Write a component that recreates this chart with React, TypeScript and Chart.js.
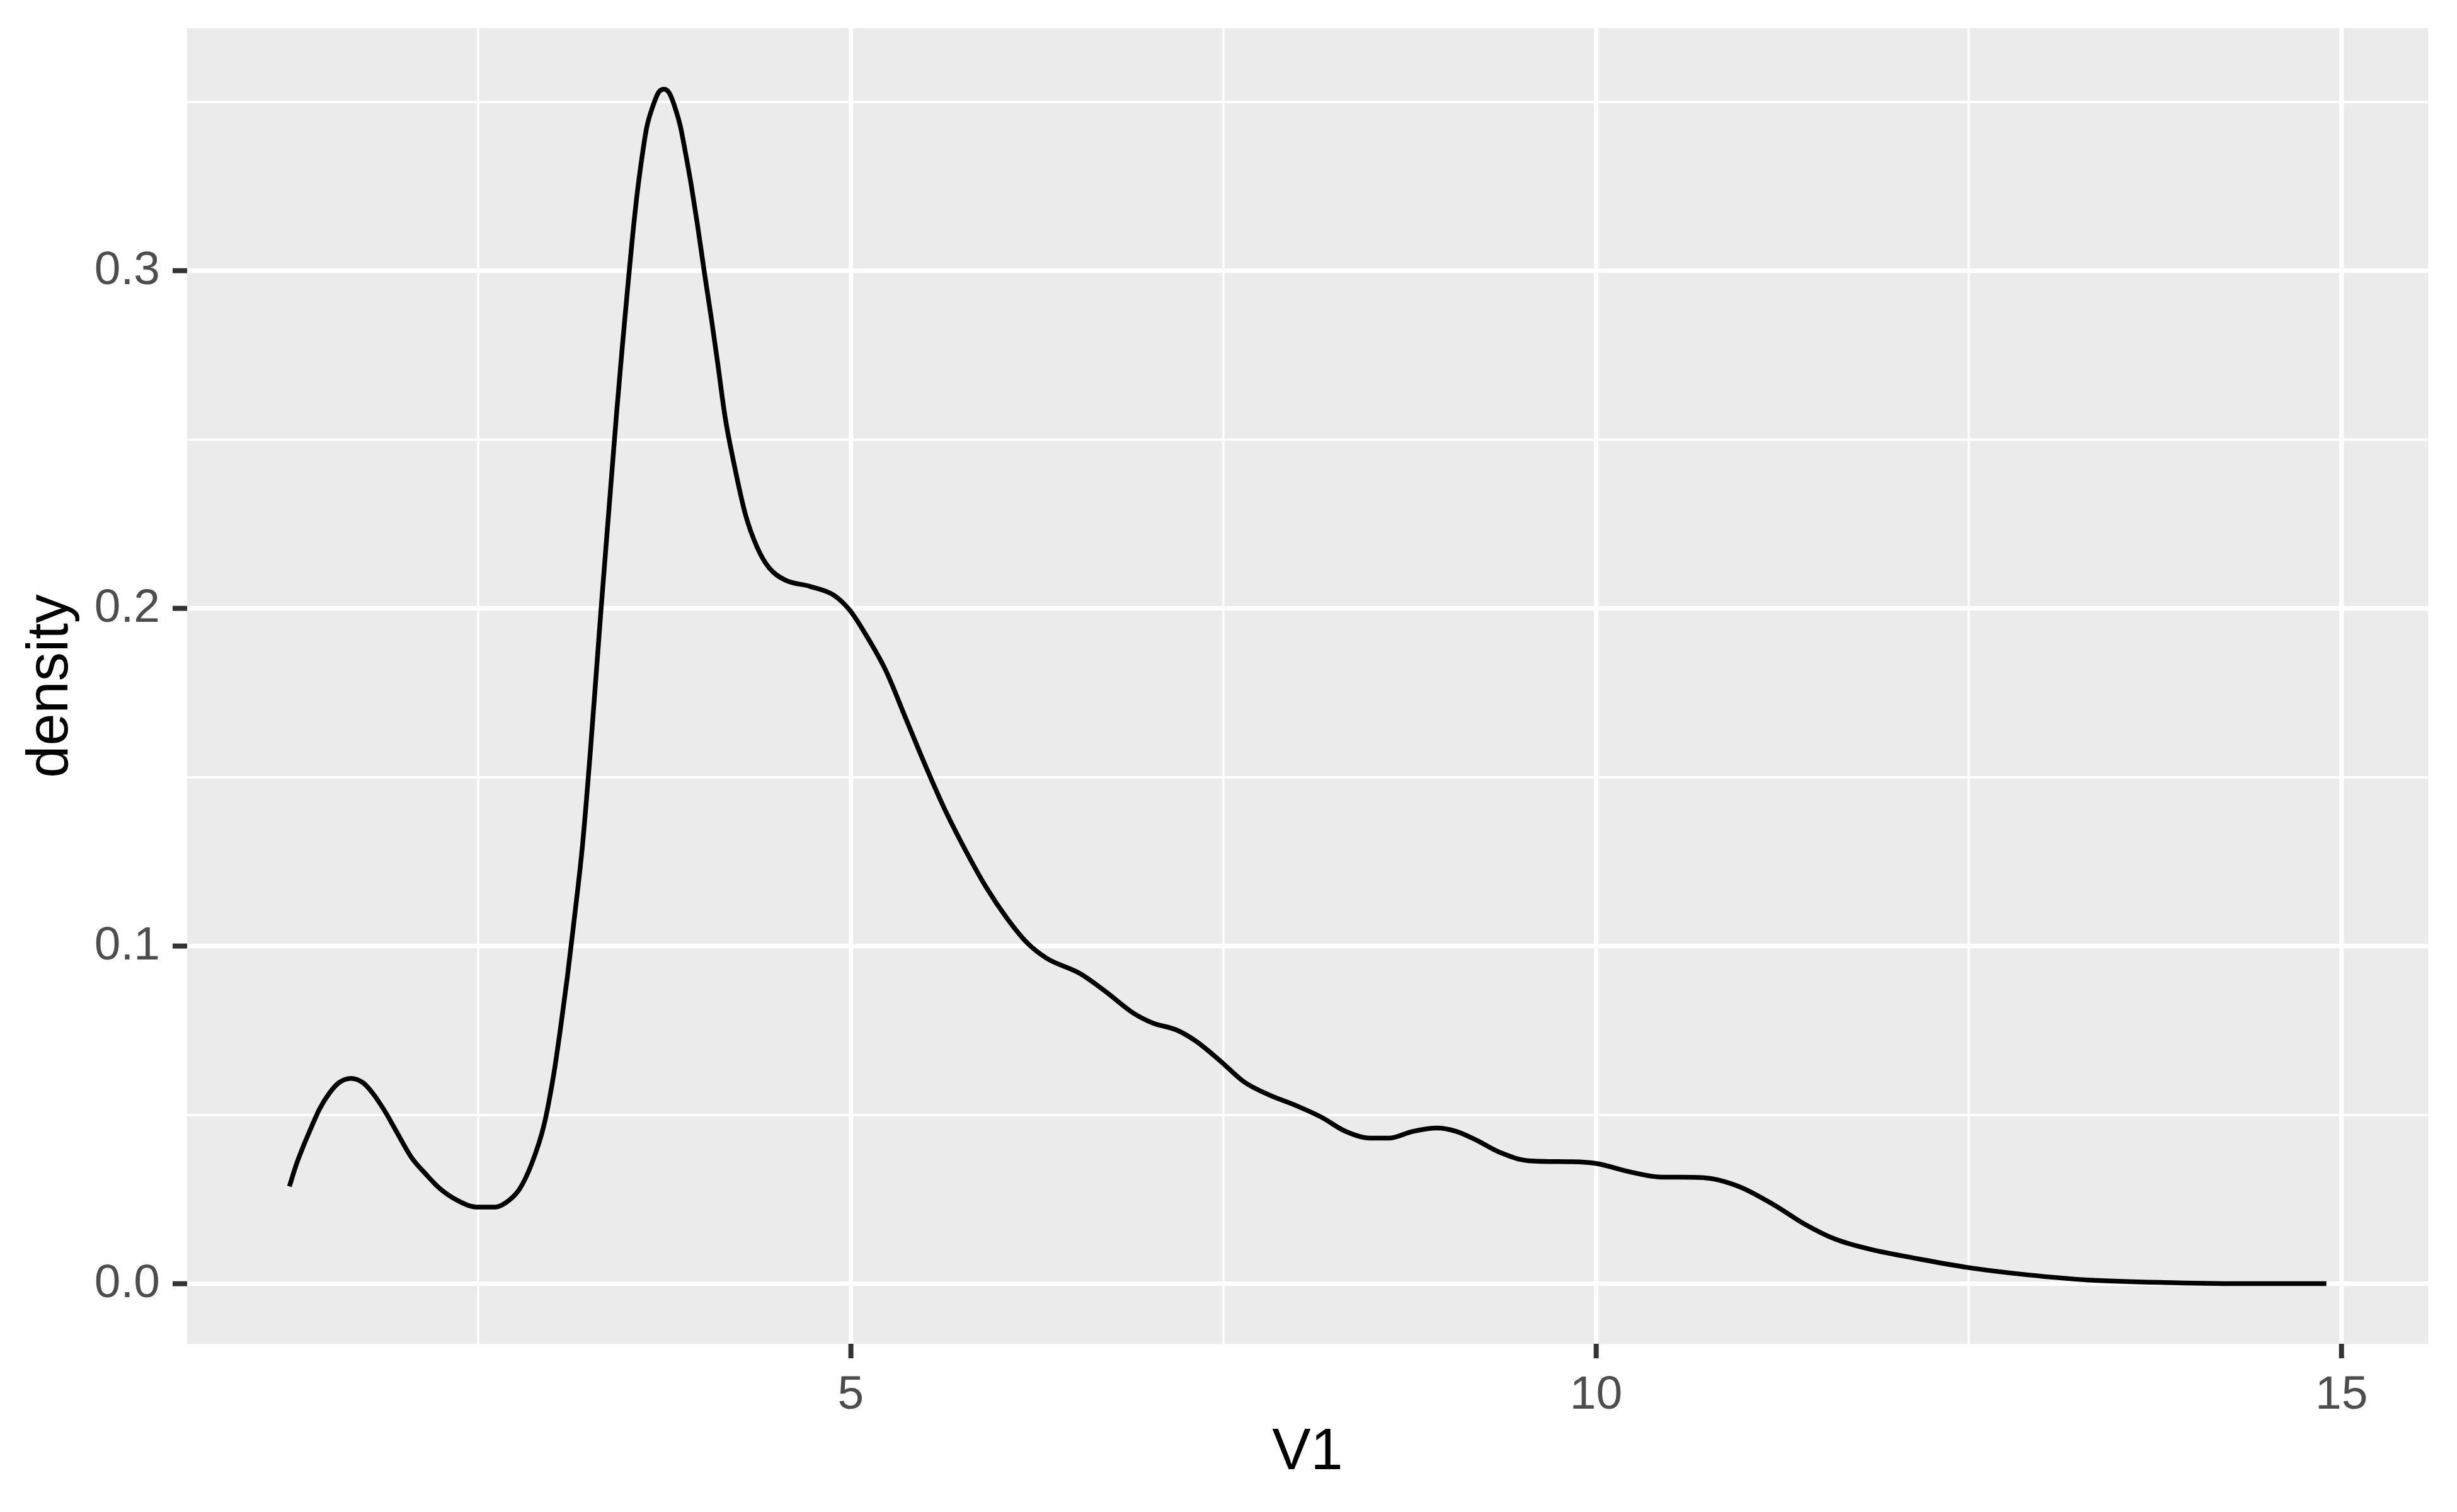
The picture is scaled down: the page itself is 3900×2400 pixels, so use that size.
import React, { useEffect, useRef } from "react";
import { Chart, registerables } from "chart.js";

Chart.register(...registerables);

// V1 values (x) and their estimated density (y)
const v1Values = [
  1.235, 1.284, 1.333, 1.381, 1.438, 1.503, 1.567, 1.648, 1.729, 1.794,
  1.875, 1.955, 2.052, 2.149, 2.246, 2.36, 2.489, 2.618, 2.7, 2.78,
  2.861, 2.942, 3.007, 3.055, 3.1, 3.147, 3.201, 3.255, 3.322, 3.376,
  3.43, 3.469, 3.501, 3.533, 3.566, 3.598, 3.631, 3.671, 3.712, 3.747,
  3.784, 3.825, 3.857, 3.89, 3.93, 3.97, 4.019, 4.068, 4.108, 4.158,
  4.212, 4.293, 4.374, 4.454, 4.562, 4.724, 4.886, 4.994, 5.101, 5.236,
  5.371, 5.506, 5.64, 5.775, 5.91, 6.045, 6.184, 6.313, 6.54, 6.701,
  6.896, 7.025, 7.187, 7.316, 7.478, 7.64, 7.801, 7.995, 8.157, 8.319,
  8.481, 8.61, 8.771, 8.933, 9.062, 9.192, 9.353, 9.548, 9.839, 10.0,
  10.227, 10.42, 10.713, 10.956, 11.198, 11.4, 11.603, 11.846, 12.169, 12.492,
  12.897, 13.3, 13.867, 14.39, 14.898,
];
const densityValues = [
  0.0289, 0.0357, 0.0413, 0.0463, 0.0519, 0.0565, 0.0596, 0.0609, 0.0596, 0.0565,
  0.0512, 0.045, 0.0376, 0.0326, 0.0282, 0.0248, 0.0228, 0.0228, 0.0245, 0.0282,
  0.0357, 0.0469, 0.0618, 0.0762, 0.0911, 0.1085, 0.1299, 0.1584, 0.1978, 0.228,
  0.258, 0.278, 0.2935, 0.3085, 0.3222, 0.333, 0.3423, 0.3485, 0.3529, 0.3538,
  0.3526, 0.3479, 0.3429, 0.3354, 0.3255, 0.3143, 0.2994, 0.2851, 0.2726, 0.2566,
  0.244, 0.228, 0.218, 0.212, 0.2084, 0.2066, 0.204, 0.1995, 0.1923, 0.1816,
  0.1673, 0.153, 0.1397, 0.128, 0.1174, 0.1085, 0.101, 0.0965, 0.0919, 0.0869,
  0.0802, 0.0773, 0.0752, 0.0719, 0.0661, 0.0598, 0.0561, 0.0527, 0.0494, 0.0452,
  0.0432, 0.0432, 0.0452, 0.0462, 0.0452, 0.0427, 0.039, 0.0365, 0.0362, 0.0357,
  0.0332, 0.0317, 0.0315, 0.0289, 0.0233, 0.0177, 0.0133, 0.0102, 0.0074, 0.0049,
  0.0027, 0.0012, 0.0004, 0.0001, 0.0001,
];

// Axis ticks (majors are labelled, minors only get a thin grid line)
const xTickValues = [2.5, 5, 7.5, 10, 12.5, 15];
const xMajorTicks = [5, 10, 15];
const yTickValues = [0, 0.05, 0.1, 0.15, 0.2, 0.25, 0.3, 0.35];
const yMajorTicks = [0, 0.1, 0.2, 0.3];

const xTitle = "V1";
const yTitle = "density";

const FONT = "'Liberation Sans', Arial, Helvetica, sans-serif";

const isMajor = (list: number[], v: number) =>
  list.some((m) => Math.abs(m - v) < 1e-9);

const panelBackground = {
  id: "panelBackground",
  beforeDraw(chart: any) {
    const { ctx, chartArea } = chart;
    ctx.save();
    ctx.fillStyle = "#EBEBEB";
    ctx.fillRect(
      chartArea.left,
      chartArea.top,
      chartArea.right - chartArea.left,
      chartArea.bottom - chartArea.top
    );
    ctx.restore();
  },
};

export default function App() {
  const canvasRef = useRef<HTMLCanvasElement | null>(null);

  useEffect(() => {
    if (!canvasRef.current) return;
    const points = v1Values.map((x, i) => ({ x, y: densityValues[i] }));

    const chart = new Chart(canvasRef.current, {
      type: "line",
      data: {
        datasets: [
          {
            data: points,
            borderColor: "#000000",
            borderWidth: 7.5,
            pointRadius: 0,
            fill: false,
            cubicInterpolationMode: "monotone",
          },
        ],
      },
      options: {
        animation: false,
        responsive: false,
        devicePixelRatio: 1,
        layout: { padding: { top: 45, right: 46, left: 0, bottom: 0 } },
        plugins: {
          legend: { display: false },
          tooltip: { enabled: false },
        },
        scales: {
          x: {
            type: "linear",
            min: 0.549,
            max: 15.58,
            afterFit: (scale: any) => {
              scale.height = 267;
              scale.paddingLeft = 0;
              scale.paddingRight = 0;
            },
            afterBuildTicks: (scale: any) => {
              scale.ticks = xTickValues.map((v) => ({ value: v }));
            },
            border: { display: false },
            grid: {
              color: "#FFFFFF",
              lineWidth: (ctx: any) =>
                isMajor(xMajorTicks, ctx.tick?.value) ? 7.3 : 3.7,
              drawTicks: true,
              tickLength: 23,
              tickWidth: 8,
              tickColor: (ctx: any) =>
                isMajor(xMajorTicks, ctx.tick?.value)
                  ? "#333333"
                  : "rgba(0,0,0,0)",
            },
            ticks: {
              autoSkip: false,
              maxRotation: 0,
              padding: 14,
              color: "#4D4D4D",
              font: { family: FONT, size: 75 },
              callback: (v: any) =>
                isMajor(xMajorTicks, Number(v)) ? String(Number(v)) : "",
            },
            title: {
              display: true,
              text: xTitle,
              color: "#000000",
              font: { family: FONT, size: 92, lineHeight: 1.2 },
              padding: { top: 0, bottom: 38 },
            },
          },
          y: {
            type: "linear",
            min: -0.0177,
            max: 0.3718,
            afterFit: (scale: any) => {
              scale.width = 297;
              scale.paddingTop = 0;
              scale.paddingBottom = 0;
            },
            afterBuildTicks: (scale: any) => {
              scale.ticks = yTickValues.map((v) => ({ value: v }));
            },
            border: { display: false },
            grid: {
              color: "#FFFFFF",
              lineWidth: (ctx: any) =>
                isMajor(yMajorTicks, ctx.tick?.value) ? 7.3 : 3.7,
              drawTicks: true,
              tickLength: 23,
              tickWidth: 8,
              tickColor: (ctx: any) =>
                isMajor(yMajorTicks, ctx.tick?.value)
                  ? "#333333"
                  : "rgba(0,0,0,0)",
            },
            ticks: {
              autoSkip: false,
              padding: 20,
              color: "#4D4D4D",
              font: { family: FONT, size: 75 },
              callback: (v: any) =>
                isMajor(yMajorTicks, Number(v)) ? Number(v).toFixed(1) : "",
            },
            title: {
              display: true,
              text: yTitle,
              color: "#000000",
              font: { family: FONT, size: 92, lineHeight: 1.2 },
              padding: { top: 26, bottom: 0 },
            },
          },
        },
      } as any,
      plugins: [panelBackground],
    });

    return () => chart.destroy();
  }, []);

  return (
    <div
      style={{
        position: "absolute",
        left: 0,
        top: 0,
        width: 3900,
        height: 2400,
        background: "#FFFFFF",
      }}
    >
      <canvas
        ref={canvasRef}
        width={3900}
        height={2400}
        style={{ display: "block", width: 3900, height: 2400 }}
      />
    </div>
  );
}
